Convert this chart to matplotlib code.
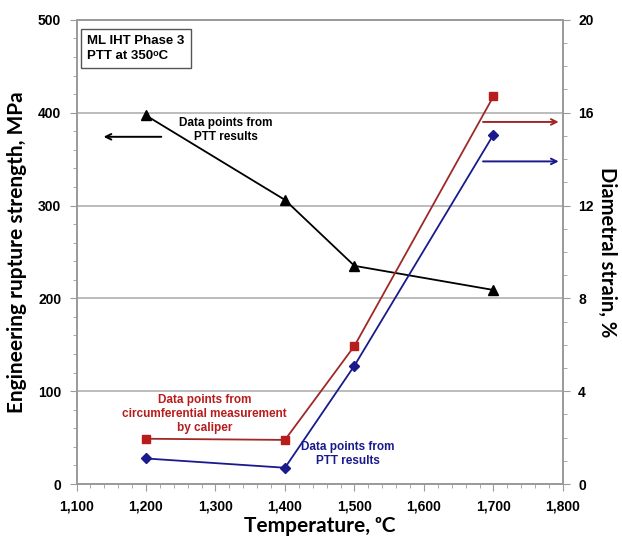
import matplotlib.pyplot as plt
from matplotlib.ticker import MultipleLocator, FuncFormatter

# data
temps = [1200, 1400, 1500, 1700]
strength = [397, 306, 235, 209]          # MPa, left axis
strain_caliper = [1.95, 1.9, 5.95, 16.7]  # %, right axis
strain_ptt = [1.1, 0.7, 5.1, 15.05]      # %, right axis

narrow = ['Liberation Sans', 'DejaVu Sans']
label_font = ['Lato', 'DejaVu Sans']
red = '#b81c1c'
blue = '#1a1a8c'

fig = plt.figure(figsize=(6.22, 5.36), dpi=100)
ax = fig.add_axes([0.123, 0.097, 0.782, 0.866])
ax2 = ax.twinx()

ax.set_xlim(1100, 1800)
ax.set_ylim(0, 500)
ax2.set_ylim(0, 20)

ax.xaxis.set_major_locator(MultipleLocator(100))
ax.xaxis.set_minor_locator(MultipleLocator(20))
ax.yaxis.set_major_locator(MultipleLocator(100))
ax.yaxis.set_minor_locator(MultipleLocator(20))
ax2.yaxis.set_major_locator(MultipleLocator(4))
ax2.yaxis.set_minor_locator(MultipleLocator(1))
ax.xaxis.set_major_formatter(FuncFormatter(lambda v, p: f'{int(v):,}'))

ax.grid(axis='y', which='major', color='#b0b0b0', lw=1.2)
ax.set_axisbelow(True)

for a in (ax, ax2):
    for s in a.spines.values():
        s.set_color('#9a9a9a')
        s.set_linewidth(1.2)
    a.tick_params(which='both', color='#9a9a9a', labelsize=10, pad=6)
    a.tick_params(which='major', length=5)
    a.tick_params(which='minor', length=3)
    for lab in a.get_xticklabels() + a.get_yticklabels():
        lab.set_family(narrow)
        lab.set_fontweight('bold')

ax.plot(temps, strength, color='black', lw=1.3, marker='^', ms=7, zorder=3)
ax2.plot(temps, strain_caliper, color='#a02828', lw=1.3, marker='s', ms=6,
         mfc=red, mec=red)
ax2.plot(temps, strain_ptt, color=blue, lw=1.3, marker='D', ms=5,
         mfc=blue, mec=blue)

ax.set_xlabel('Temperature, ᵒC', fontsize=15, fontweight='bold',
              family=label_font, labelpad=2)
ax.set_ylabel('Engineering rupture strength, MPa', fontsize=15,
              fontweight='bold', family=label_font, labelpad=8)
ax2.set_ylabel('Diametral strain, %', fontsize=14.5, fontweight='bold',
               family=label_font, rotation=270, labelpad=17)

ax.text(0.022, 0.968, 'ML IHT Phase 3\nPTT at 350ᵒC', transform=ax.transAxes,
        ha='left', va='top', fontsize=9.5, fontweight='bold', family=narrow,
        linespacing=1.35,
        bbox=dict(boxstyle='square,pad=0.45', fc='white', ec='#555555', lw=1))

ax.text(0.307, 0.762, 'Data points from\nPTT results', transform=ax.transAxes,
        ha='center', va='center', fontsize=8.5, fontweight='bold',
        family=narrow)
ax.annotate('', xy=(0.05, 0.748), xytext=(0.18, 0.748),
            xycoords='axes fraction',
            arrowprops=dict(arrowstyle='->', color='black', lw=1.4))

ax.text(0.263, 0.151, 'Data points from\ncircumferential measurement\nby caliper',
        transform=ax.transAxes, ha='center', va='center', fontsize=8.5,
        fontweight='bold', family=narrow, color=red)
ax.text(0.558, 0.065, 'Data points from\nPTT results', transform=ax.transAxes,
        ha='center', va='center', fontsize=8.5, fontweight='bold',
        family=narrow, color=blue)

ax.annotate('', xy=(0.997, 0.780), xytext=(0.83, 0.780),
            xycoords='axes fraction',
            arrowprops=dict(arrowstyle='->', color='#a02828', lw=1.4))
ax.annotate('', xy=(0.997, 0.695), xytext=(0.83, 0.695),
            xycoords='axes fraction',
            arrowprops=dict(arrowstyle='->', color=blue, lw=1.4))

fig.savefig('out.png', dpi=100)
